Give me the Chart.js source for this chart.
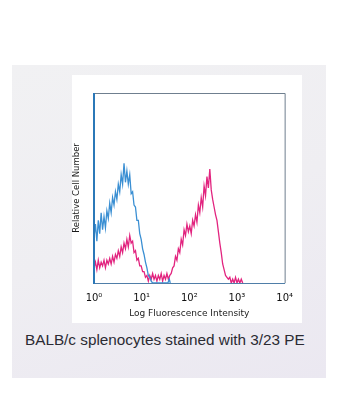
<!DOCTYPE html>
<html><head><meta charset="utf-8">
<script src="https://cdn.jsdelivr.net/npm/chart.js@4/dist/chart.umd.min.js"></script>
<style>
html,body{margin:0;padding:0;background:#fff;width:351px;height:418px;overflow:hidden;}
#panel{position:absolute;left:12px;top:65px;width:314px;height:313px;background:linear-gradient(160deg,#f1f1f3 0%,#efeef2 50%,#ebe8f1 100%);}
#card{position:absolute;left:72px;top:75px;width:230px;height:248px;background:#fff;}
#card canvas{display:block;}
#caption{position:absolute;left:25px;top:331px;font-family:"Liberation Sans",Arial,sans-serif;font-size:15.3px;color:#2b2b33;white-space:nowrap;}
</style></head>
<body>
<div id="panel"></div>
<div id="card"><canvas id="c" width="230" height="248"></canvas></div>
<div id="caption">BALB/c splenocytes stained with 3/23 PE</div>
<script>
const tickValues = [0,1,2,3,4];
const tickLabels = ["10\u2070","10\u00b9","10\u00b2","10\u00b3","10\u2074"];
const xTitle = "Log Fluorescence Intensity";
const yTitle = "Relative Cell Number";

const blueX = [0.00,0.03,0.06,0.09,0.12,0.15,0.18,0.21,0.24,0.27,0.30,0.33,0.36,0.39,0.42,0.45,0.48,0.51,0.54,0.57,0.60,0.63,0.66,0.69,0.72,0.75,0.78,0.81,0.84,0.87,0.90,0.93,0.96,0.99,1.02,1.05,1.08,1.11,1.14,1.17,1.20,1.23,1.26,1.30,1.35,1.40,1.45,1.50,1.55,1.58,1.60];
const blueY = [24,31,22,33,26,37,28,35,29,38,34,42,37,45,41,48,44,52,48,57,52,63,53,59,52,57,47,48,41,40,33,33,26,23,18,15,11,8,4,3,1,0,0,0,0,0,0,0,0,2,0];

const pinkX = [0.00,0.03,0.06,0.09,0.12,0.15,0.18,0.21,0.24,0.27,0.30,0.33,0.36,0.39,0.42,0.45,0.48,0.51,0.54,0.57,0.60,0.63,0.66,0.69,0.72,0.75,0.78,0.81,0.84,0.87,0.90,0.93,0.96,0.99,1.02,1.05,1.08,1.11,1.14,1.17,1.20,1.23,1.26,1.29,1.32,1.35,1.38,1.41,1.44,1.47,1.50,1.53,1.56,1.59,1.62,1.65,1.68,1.71,1.74,1.77,1.80,1.83,1.86,1.89,1.92,1.95,1.98,2.01,2.04,2.07,2.10,2.13,2.16,2.19,2.22,2.25,2.28,2.31,2.34,2.37,2.40,2.43,2.46,2.49,2.52,2.55,2.58,2.61,2.64,2.67,2.70,2.73,2.76,2.79,2.82,2.85,2.88,2.91,2.94,2.97,3.00,3.03,3.06,3.09,3.12];
const pinkY = [8,11,7,12,8,11,9,12,8,12,10,13,10,14,11,15,13,17,14,19,16,21,18,23,19,25,21,22,16,17,12,13,9,9,6,6,3,4,1,4,2,5,2,4,1,4,2,5,1,4,2,5,2,4,5,8,9,14,12,18,16,23,20,28,25,31,27,30,26,33,30,36,32,41,37,45,40,51,46,56,50,60,49,44,40,36,33,27,21,16,10,7,4,3,2,3,0,2,0,3,0,2,0,2,0];

const toPts = (xs, ys) => xs.map((x, i) => ({x: x, y: ys[i]}));

const framePlugin = {
  id: 'frame',
  afterDatasetsDraw(chart) {
    const {ctx, chartArea: a} = chart;
    ctx.save();
    ctx.lineWidth = 1;
    ctx.strokeStyle = '#6f7f8f';
    ctx.beginPath();
    ctx.moveTo(a.left, a.top + 0.5); ctx.lineTo(a.right + 0.5, a.top + 0.5);
    ctx.lineTo(a.right + 0.5, a.bottom);
    ctx.stroke();
    ctx.strokeStyle = '#4f7ea8';
    ctx.beginPath();
    ctx.moveTo(a.left, a.bottom + 0.5); ctx.lineTo(a.right + 0.5, a.bottom + 0.5);
    ctx.stroke();
    ctx.strokeStyle = '#2b78b8';
    ctx.lineWidth = 2;
    ctx.beginPath();
    ctx.moveTo(a.left, a.top); ctx.lineTo(a.left, a.bottom + 1);
    ctx.stroke();
    ctx.restore();
  }
};

new Chart(document.getElementById('c'), {
  type: 'line',
  data: {
    datasets: [
      {label: 'Isotype', data: toPts(blueX, blueY), borderColor: '#3a8fd3', borderWidth: 1.3, pointRadius: 0, tension: 0, fill: false},
      {label: '3/23 PE', data: toPts(pinkX, pinkY), borderColor: '#e2247f', borderWidth: 1.3, pointRadius: 0, tension: 0, fill: false}
    ]
  },
  options: {
    responsive: false,
    animation: false,
    events: [],
    layout: {padding: {top: 18, right: 11, left: 0, bottom: 0}},
    plugins: {legend: {display: false}, tooltip: {enabled: false}},
    scales: {
      x: {
        type: 'linear', min: 0, max: 4,
        afterBuildTicks: (s) => { s.ticks = tickValues.map(v => ({value: v})); },
        afterFit: (s) => { s.height = 40; },
        grid: {display: false, drawTicks: false},
        border: {display: false},
        ticks: {
          padding: 9, maxRotation: 0, autoSkip: false, color: '#111',
          font: {family: '"DejaVu Sans", sans-serif', size: 10},
          callback: (v) => tickLabels[tickValues.indexOf(v)]
        },
        title: {display: true, text: xTitle, color: '#222', padding: {top: 0, bottom: 4},
          font: {family: '"DejaVu Sans", sans-serif', size: 9}}
      },
      y: {
        min: 0, max: 100,
        afterFit: (s) => { s.width = 22; },
        grid: {display: false, drawTicks: false},
        border: {display: false},
        ticks: {display: false},
        title: {display: true, text: yTitle, color: '#1a1a1a', padding: {top: 0, bottom: 0},
          font: {family: '"DejaVu Sans", sans-serif', size: 8.5}}
      }
    }
  },
  plugins: [framePlugin]
});
</script>
</body></html>
